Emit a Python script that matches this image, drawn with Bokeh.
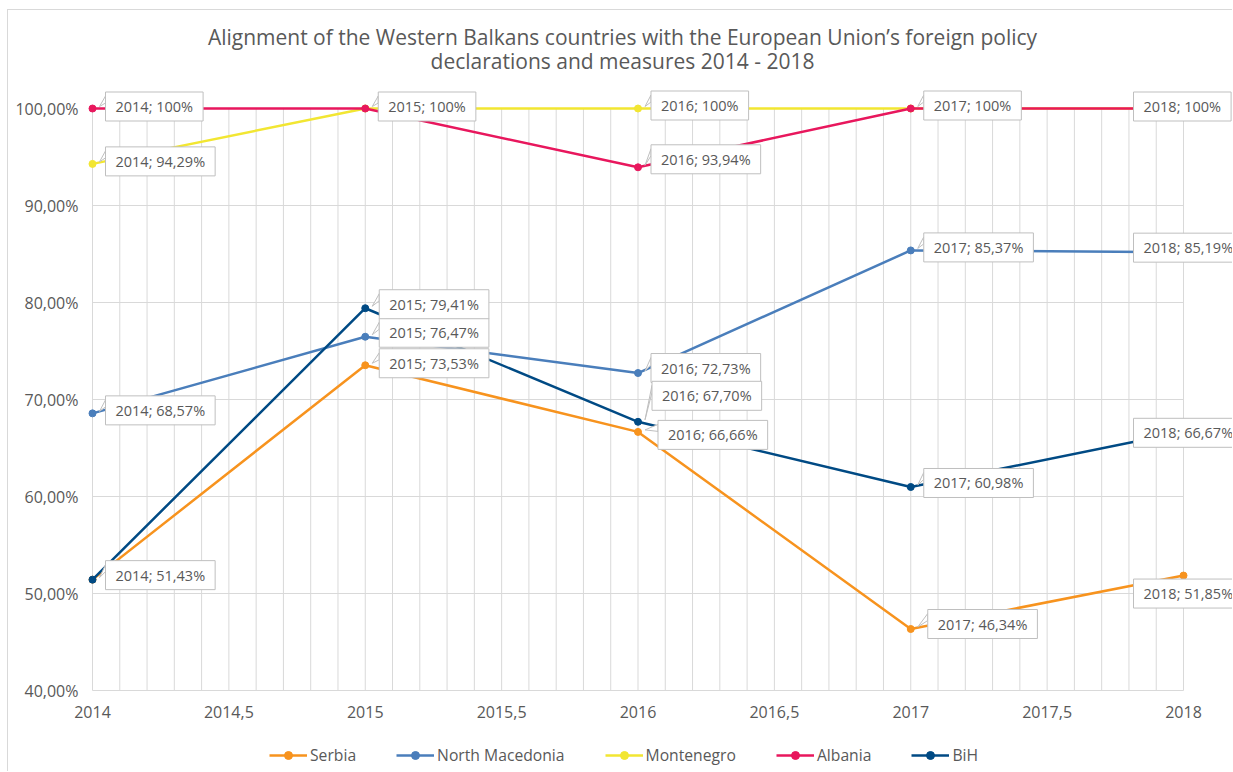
import numpy as np
from bokeh.plotting import figure
from bokeh.models import Range1d, FixedTicker, Label, Legend, LegendItem, ColumnDataSource
from bokeh.core.properties import value
from bokeh.embed import file_html
from bokeh.resources import INLINE

# ---------------- data ----------------
years = [2014, 2015, 2016, 2017, 2018]
serbia = [51.43, 73.53, 66.66, 46.34, 51.85]
north_macedonia = [68.57, 76.47, 72.73, 85.37, 85.19]
montenegro = [94.29, 100, 100, 100, 100]
albania = [100, 100, 93.94, 100, 100]
bih = [51.43, 79.41, 67.70, 60.98, 66.67]

series_names = ["Serbia", "North Macedonia", "Montenegro", "Albania", "BiH"]
series_values = [serbia, north_macedonia, montenegro, albania, bih]
series_colors = ["#F7931E", "#4A7EBB", "#F2E632", "#E8175D", "#004A84"]

y_ticks = [40, 50, 60, 70, 80, 90, 100]
y_tick_labels = ["40,00%", "50,00%", "60,00%", "70,00%", "80,00%", "90,00%", "100,00%"]
x_ticks = [2014, 2014.5, 2015, 2015.5, 2016, 2016.5, 2017, 2017.5, 2018]
x_tick_labels = ["2014", "2014,5", "2015", "2015,5", "2016", "2016,5", "2017", "2017,5", "2018"]

title_lines = ["Alignment of the Western Balkans countries with the European Union\u2019s foreign policy",
               "declarations and measures 2014 - 2018"]

# which data labels are shown: (series index, year index) and their placement offsets in px
label_series = [3, 2, 2, 2, 3, 3, 3, 1, 1, 4, 0, 1, 4, 0, 1, 1, 4, 4, 4, 0, 0]
label_year = [0, 0, 1, 2, 2, 3, 4, 0, 1, 1, 1, 2, 2, 2, 3, 4, 3, 4, 0, 3, 4]
label_dx = [13, 13, 13, 13, 13, 13, -50, 13, 14, 14, 14, 13, 14, 20, 13, -50, 13, -50, 13, 17, -50]
label_dy = [-2, -2.5, -2, -3, -8, -3, -2, -3, -4, -4, -2, -5, -26, 3, -3, -4.5, -4, 1, -4.5, -5, 18]

TEXT = "#595959"
GRID = "#D9D9D9"
FONT = "Open Sans"

# layout (pixels); the frame covers the whole canvas, axes are pinned to the data area
W, H = 1225, 762
LEFT_GAP = 84           # pixels from the canvas left edge to the 2014 line
AXIS_GAP = 82           # pixels from the 40 % line to the bottom of the canvas
PX_PER_YEAR = 272.75
PX_PER_PCT = 9.7
x_start = x_ticks[0] - LEFT_GAP / PX_PER_YEAR
x_end = x_start + W / PX_PER_YEAR
y_start = y_ticks[0] - AXIS_GAP / PX_PER_PCT
y_end = y_start + H / PX_PER_PCT


def fmt(v):
    if abs(v - round(v)) < 1e-9:
        return "%d%%" % round(v)
    return ("%.2f" % v).replace(".", ",") + "%"


p = figure(width=W, height=H, output_backend="svg", toolbar_location=None,
           x_range=Range1d(x_start, x_end), y_range=Range1d(y_start, y_end),
           min_border_left=0, min_border_right=0, min_border_top=0, min_border_bottom=0,
           background_fill_color="white", border_fill_color="white")
p.margin = (9, 0, 0, 7)
p.styles = {"border-left": "1px solid #D9D9D9", "border-top": "1px solid #D9D9D9"}
p.outline_line_color = None

# grid (limited to the data area 2014-2018 / 40-100 %)
p.xgrid.grid_line_color = None
p.ygrid.grid_line_color = None
gx = np.round(np.arange(x_ticks[0], x_ticks[-1] + 1e-6, 0.1), 1)
p.segment(x0=gx, y0=y_ticks[0], x1=gx, y1=y_ticks[-1], line_color=GRID, line_width=1)
p.segment(x0=x_ticks[0], y0=y_ticks, x1=x_ticks[-1], y1=y_ticks, line_color=GRID, line_width=1)

# axes
p.yaxis.ticker = FixedTicker(ticks=y_ticks)
p.yaxis.major_label_overrides = {t: l for t, l in zip(y_ticks, y_tick_labels)}
p.yaxis.fixed_location = x_ticks[0]
p.xaxis.ticker = FixedTicker(ticks=x_ticks)
p.xaxis.major_label_overrides = {t: l for t, l in zip(x_ticks, x_tick_labels)}
p.xaxis.fixed_location = y_ticks[0]
for ax in (p.xaxis, p.yaxis):
    ax.axis_line_color = None
    ax.major_tick_line_color = None
    ax.minor_tick_line_color = None
    ax.major_label_text_font = FONT
    ax.major_label_text_font_size = "16px"
    ax.major_label_text_color = TEXT
p.xaxis.major_label_standoff = 9
p.yaxis.major_label_standoff = 8

# series
items = []
for name, vals, col in zip(series_names, series_values, series_colors):
    src = ColumnDataSource(dict(x=years, y=vals))
    lr = p.line("x", "y", source=src, line_color=col, line_width=2.5)
    sr = p.scatter("x", "y", source=src, size=7, fill_color=col, line_color=col)
    items.append(LegendItem(label=name, renderers=[lr, sr]))

# data labels with callouts
lx, ly, lt, lxo, lyo = [], [], [], [], []
cxs, cys = [], []
for s, yi, dx, dy in zip(label_series, label_year, label_dx, label_dy):
    v = series_values[s][yi]
    xv, yv = years[yi], v
    lx.append(xv)
    ly.append(yv)
    lt.append("%d; %s" % (years[yi], fmt(v)))
    lxo.append(dx)
    lyo.append(dy)
    if dx > 0:
        top = dy - 12.5
        pts = [(7, -2), (dx, top + 2), (dx, top + 9)]
        cxs.append([xv + px / PX_PER_YEAR for px, _ in pts])
        cys.append([yv - py / PX_PER_PCT for _, py in pts])
p.patches(xs=cxs, ys=cys, fill_color="white", line_color="#BFBFBF", line_width=1)
lsrc = ColumnDataSource(dict(x=lx, y=ly, text=lt, xo=lxo, yo=lyo))
p.text(x="x", y="y", text="text", source=lsrc, x_offset="xo", y_offset="yo",
       text_font=value(FONT), text_font_size="14.5px", text_color=TEXT,
       text_align="left", text_baseline="middle",
       background_fill_color="white", border_line_color="#BFBFBF", border_line_width=1,
       padding=dict(left=10, right=10, top=5, bottom=5))

# title (screen units, measured from the frame's bottom-left corner)
for i, line in enumerate(title_lines):
    p.add_layout(Label(x=614, y=H - 26 - 24 * i, x_units="screen", y_units="screen", text=line,
                       text_align="center", text_baseline="alphabetic",
                       text_font=FONT, text_font_size="21px", text_color=TEXT))

legend = Legend(items=items, orientation="horizontal", location=(261, 6),
                glyph_width=38, glyph_height=20, label_height=20, label_standoff=3, spacing=40,
                padding=0, margin=0, border_line_color=None, background_fill_alpha=0,
                label_text_font=FONT, label_text_font_size="15.7px", label_text_color=TEXT)
p.add_layout(legend)

open("out.html", "w").write(file_html(p, INLINE))
